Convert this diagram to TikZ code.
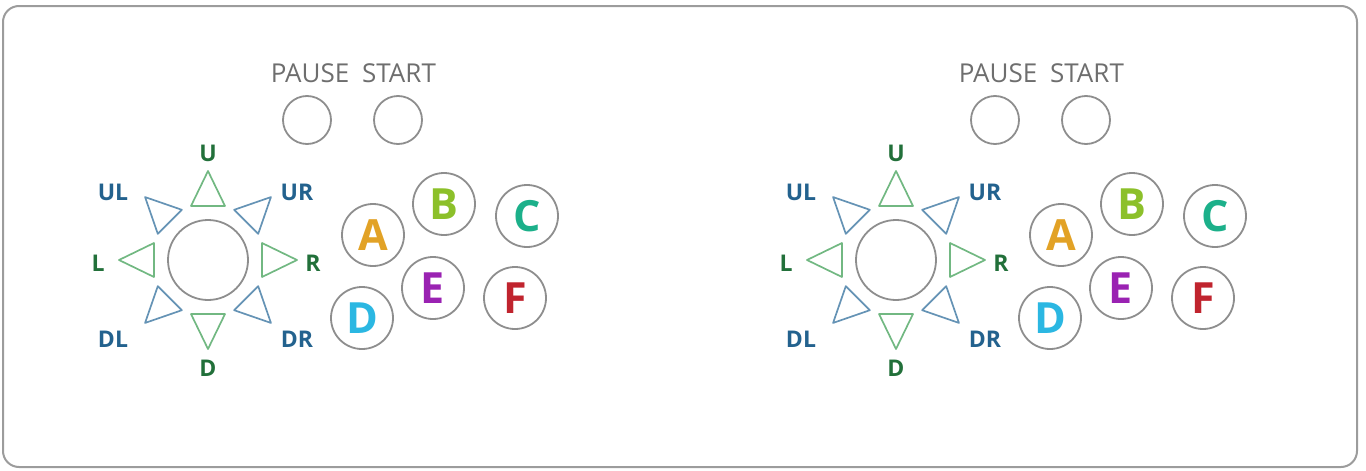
\documentclass[tikz,border=0pt]{standalone}
\usepackage{fontspec}
\setmainfont{Open Sans}
\usepackage{tikz}

\definecolor{rimgray}{HTML}{9C9C9C}
\definecolor{btngray}{HTML}{8E8E8E}
\definecolor{captgray}{HTML}{6E6E6E}
\definecolor{cardline}{HTML}{72B882}
\definecolor{cardtext}{HTML}{22703A}
\definecolor{diagline}{HTML}{6593B5}
\definecolor{diagtext}{HTML}{23628E}
\definecolor{colA}{HTML}{E2A226}
\definecolor{colB}{HTML}{8CC02A}
\definecolor{colC}{HTML}{1CB08A}
\definecolor{colD}{HTML}{2BB7E2}
\definecolor{colE}{HTML}{9A22B2}
\definecolor{colF}{HTML}{C0242E}

\tikzset{
  btn/.style={circle, draw=btngray, line width=1.8pt, minimum size=62pt, inner sep=0pt,
    font=\bfseries\fontsize{43}{43}\selectfont},
  sysbtn/.style={circle, draw=btngray, line width=1.8pt, minimum size=48pt, inner sep=0pt},
  stick/.style={circle, draw=btngray, line width=1.8pt, minimum size=80pt, inner sep=0pt},
  capt/.style={text=captgray, font=\fontsize{26}{26}\selectfont},
  cardtri/.style={draw=cardline, line width=1.7pt, line join=round},
  diagtri/.style={draw=diagline, line width=1.7pt, line join=round},
  cardlbl/.style={text=cardtext, font=\bfseries\fontsize{23}{23}\selectfont},
  diaglbl/.style={text=diagtext, font=\bfseries\fontsize{23}{23}\selectfont}
}

\begin{document}
\begin{tikzpicture}[x=1pt, y=-1pt]
  \useasboundingbox (0,0) rectangle (1366,471);
  % outer panel
  \draw[rimgray, line width=2pt, rounded corners=16pt] (3,6) rectangle (1357,467);

  \foreach \px/\sfx in {0/l, 688/r} {
    \begin{scope}[xshift=\px]
      % pause / start
      \node at (310,73) [capt] (pausetxt\sfx) {PAUSE};
      \node at (399,73) [capt] (starttxt\sfx) {START};
      \node at (307,120) [sysbtn] (pause\sfx) {};
      \node at (398,120) [sysbtn] (start\sfx) {};

      % stick and directions
      \node at (208,260) [stick] (js\sfx) {};
      \foreach \a/\st in {0/cardtri, 90/cardtri, 180/cardtri, 270/cardtri,
                          45/diagtri, 135/diagtri, 225/diagtri, 315/diagtri}
        \draw[\st, shift={(js\sfx.center)}, rotate=\a] (54,-17) -- (89,0) -- (54,17) -- cycle;
      \node at (208,153) [cardlbl] (up\sfx) {U};
      \node at (208,368) [cardlbl] (dn\sfx) {D};
      \node at (98,263) [cardlbl] (lft\sfx) {L};
      \node at (313,263) [cardlbl] (rgt\sfx) {R};
      \node at (113,192) [diaglbl] (ul\sfx) {UL};
      \node at (297,192) [diaglbl] (ur\sfx) {UR};
      \node at (113,339) [diaglbl] (dl\sfx) {DL};
      \node at (297,339) [diaglbl] (dr\sfx) {DR};

      % action buttons
      \node at (373,235) [btn, text=colA] (a\sfx) {A};
      \node at (444,204) [btn, text=colB] (b\sfx) {B};
      \node at (527,216) [btn, text=colC] (c\sfx) {C};
      \node at (362,318) [btn, text=colD] (d\sfx) {D};
      \node at (433,288) [btn, text=colE] (e\sfx) {E};
      \node at (515,298) [btn, text=colF] (f\sfx) {F};
    \end{scope}
  }
\end{tikzpicture}
\end{document}
